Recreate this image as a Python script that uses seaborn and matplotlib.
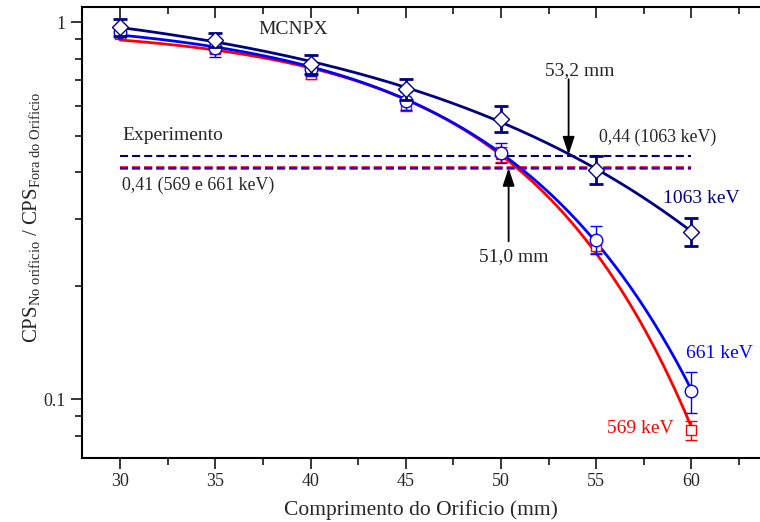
import numpy as np
import pandas as pd
import matplotlib
matplotlib.use("Agg")
import matplotlib.pyplot as plt
import seaborn as sns

# ---------------- data ----------------
x_mm = [30, 35, 40, 45, 50, 55, 60]
y_1063 = [0.968, 0.897, 0.773, 0.663, 0.554, 0.406, 0.278]
e_1063 = [0.050, 0.040, 0.044, 0.041, 0.044, 0.035, 0.024]
y_661 = [0.940, 0.853, 0.750, 0.618, 0.450, 0.265, 0.105]
e_661 = [0.030, 0.045, 0.030, 0.035, 0.028, 0.022, 0.013]
y_569 = [0.929, 0.848, 0.727, 0.601, 0.446, 0.255, 0.0827]
e_569 = [0.020, 0.020, 0.020, 0.020, 0.020, 0.011, 0.0047]
exp_1063 = 0.44
exp_569_661 = 0.41
exp_x = [30, 60]
cross_1063 = 53.2
cross_661 = 51.0

NAVY = "#000080"
BLUE = "#0000FF"
RED = "#FF0000"

sns.set_theme(style="ticks")
plt.rcParams["font.family"] = ["Liberation Serif", "DejaVu Serif"]
plt.rcParams["mathtext.fontset"] = "custom"
plt.rcParams["mathtext.rm"] = "Liberation Serif"
plt.rcParams["mathtext.it"] = "Liberation Serif:italic"
plt.rcParams["lines.scale_dashes"] = False

fig = plt.figure(figsize=(7.6, 5.22), dpi=100)
ax = fig.add_axes([82 / 760, 64 / 522, (760 - 82) / 760, 451 / 522])

# smooth fitted curves: log(y) = a + b*exp(x/c), best c by least squares
xf = np.linspace(30, 60, 300)
def fit(y):
    xa = np.asarray(x_mm, float)
    ly = np.log(y)
    best = None
    for c in np.linspace(3, 80, 400):
        A = np.column_stack([np.ones_like(xa), np.exp(xa / c)])
        coef, *_ = np.linalg.lstsq(A, ly, rcond=None)
        sse = np.sum((A @ coef - ly) ** 2)
        if best is None or sse < best[0]:
            best = (sse, c, coef)
    _, c, coef = best
    return np.exp(coef[0] + coef[1] * np.exp(xf / c))

df_fit = pd.DataFrame({
    "x": np.concatenate([xf, xf, xf]),
    "y": np.concatenate([fit(y_569), fit(y_661), fit(y_1063)]),
    "s": ["569"] * len(xf) + ["661"] * len(xf) + ["1063"] * len(xf),
})
sns.lineplot(data=df_fit, x="x", y="y", hue="s",
             palette={"569": RED, "661": BLUE, "1063": NAVY},
             lw=2, legend=False, ax=ax, zorder=2)

# experimental dashed lines
ax.plot(exp_x, [exp_569_661] * 2, color=RED, lw=2.6, ls=(0, (5.8, 2.9)), zorder=3)
ax.plot(exp_x, [exp_569_661] * 2, color=BLUE, lw=1.2, ls=(0, (5.8, 2.9)), zorder=3)
ax.plot(exp_x, [exp_1063] * 2, color=NAVY, lw=1.5, ls=(0, (5.8, 2.9)), zorder=3)

# error bars + markers
ax.errorbar(x_mm, y_569, yerr=e_569, fmt="s", ms=7, mfc="white", mec=RED,
            color=RED, ecolor=RED, elinewidth=1, capsize=4, capthick=1, zorder=4)
ax.errorbar(x_mm, y_661, yerr=e_661, fmt="o", ms=9, mfc="white", mec=BLUE,
            color=BLUE, ecolor=BLUE, elinewidth=1, capsize=4, capthick=1, zorder=5)
ax.errorbar(x_mm, y_1063, yerr=e_1063, fmt="D", ms=8, mfc="white", mec=NAVY,
            color=NAVY, ecolor=NAVY, elinewidth=2, capsize=5, capthick=2, zorder=6)

ax.set_yscale("log")
ax.set_xlim(28, 63.6)
ax.set_ylim(0.0698, 1.096)
ax.set_xticks([30, 35, 40, 45, 50, 55, 60])
ax.set_xticks(np.arange(32.5, 63.6, 5), minor=True)
ax.set_yticks([0.1, 1])
ax.set_yticklabels(["0.1", "1"])
ax.set_yticks([0.08, 0.09, 0.2, 0.3, 0.4, 0.5, 0.6, 0.7, 0.8, 0.9], minor=True)
ax.yaxis.set_minor_formatter(matplotlib.ticker.NullFormatter())

ax.tick_params(axis="x", which="major", direction="out", length=8, width=1.3,
               labelsize=13, top=True, pad=3)
ax.tick_params(axis="x", which="minor", direction="out", length=5, width=1.3, top=True)
ax.tick_params(axis="y", which="major", direction="out", length=8, width=1.3,
               labelsize=13, right=False)
ax.tick_params(axis="y", which="minor", direction="out", length=5, width=1.3, right=False)
# top ticks inward
for t in ax.xaxis.get_major_ticks():
    t.tick2line.set_marker(matplotlib.lines.TICKDOWN)
for t in ax.xaxis.get_minor_ticks():
    t.tick2line.set_marker(matplotlib.lines.TICKDOWN)

for s in ["left", "bottom", "top"]:
    ax.spines[s].set_linewidth(1.5)
    ax.spines[s].set_color("black")
ax.spines["right"].set_visible(False)

ax.set_xlabel("Comprimento do Orificio (mm)", fontsize=15.5, labelpad=7)
ax.set_ylabel(r"$\mathrm{CPS}_{\mathrm{No\ orificio}}\ /\ \mathrm{CPS}_{\mathrm{Fora\ do\ Orificio}}$",
              fontsize=15)
ax.yaxis.set_label_coords(-0.059, 0.534)

# annotations
ax.text(39.11, 0.958, "MCNPX", fontsize=14, ha="center", va="center")
ax.text(30.1, 0.5007, "Experimento", fontsize=14, ha="left", va="center")
ax.text(30.1, 0.368, "0,41 (569 e 661 keV)", fontsize=12.9, ha="left", va="center")
ax.text(55.15, 0.495, "0,44 (1063 keV)", fontsize=12.9, ha="left", va="center")
ax.text(54.15, 0.745, f"{cross_1063:.1f} mm".replace(".", ","), fontsize=14,
        ha="center", va="center")
ax.text(50.69, 0.239, f"{cross_661:.1f} mm".replace(".", ","), fontsize=14,
        ha="center", va="center")
ax.text(60.5, 0.340, "1063 keV", fontsize=14, color=NAVY, ha="center", va="center")
ax.text(59.71, 0.1325, "661 keV", fontsize=14, color=BLUE, ha="left", va="center")
ax.text(59.08, 0.0837, "569 keV", fontsize=14, color=RED, ha="right", va="center")

arrow = dict(arrowstyle="-|>,head_length=0.9,head_width=0.3", color="black", lw=1.3,
             shrinkA=0, shrinkB=0)
ax.annotate("", xy=(53.55, 0.445), xytext=(53.55, 0.705), arrowprops=arrow)
ax.annotate("", xy=(50.4, 0.41), xytext=(50.4, 0.262), arrowprops=arrow)

fig.savefig("out.png", dpi=100)
